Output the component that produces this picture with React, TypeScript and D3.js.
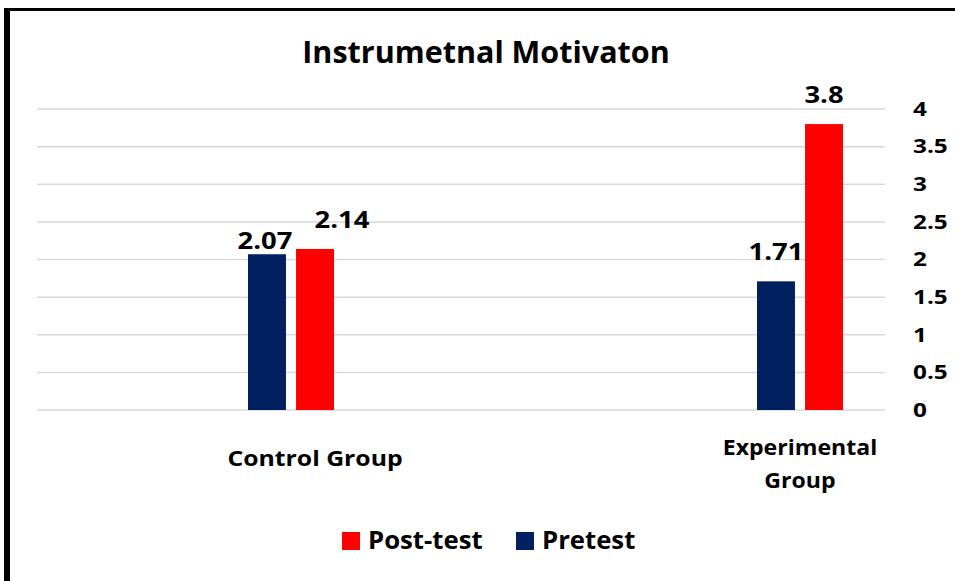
import React from "react";
import * as d3 from "d3";

const categories = ["Control Group", "Experimental Group"];
const seriesNames = ["Pretest", "Post-test"];
const pretest = [2.07, 1.71];
const posttest = [2.14, 3.8];
const yTicks = [0, 0.5, 1, 1.5, 2, 2.5, 3, 3.5, 4];
const legendOrder = ["Post-test", "Pretest"];

const colors: Record<string, string> = { Pretest: "#002060", "Post-test": "#FF0000" };
const font = "'Open Sans', sans-serif";

// bold text, optionally widened a bit to match the original's wide glyphs
function Label(props: {
  x: number;
  y: number;
  size: number;
  sx?: number;
  anchor?: string;
  dy?: string;
  children: React.ReactNode;
}) {
  const { x, y, size, sx = 1, anchor = "start", dy } = props;
  return (
    <text
      transform={`translate(${x},${y}) scale(${sx},1)`}
      dy={dy}
      textAnchor={anchor}
      fontSize={size}
      fontWeight="bold"
      fill="#000"
    >
      {props.children}
    </text>
  );
}

export default function App() {
  const width = 955;
  const height = 581;

  const y = d3.scaleLinear().domain([0, 4]).range([410, 109]);
  const x = d3.scalePoint<string>().domain(categories).range([291, 800]);
  const inner = d3.scaleBand<string>().domain(seriesNames).range([-43, 43]).paddingInner(0.21);

  const gridX0 = 37;
  const gridX1 = 885;

  // manual tweaks that the original chart had on its labels
  const labelShift: Record<string, [number, number]> = {
    "Control Group|Pretest": [-2, 16],
    "Control Group|Post-test": [27, 0],
  };
  const catShift: Record<string, number> = { "Control Group": 24 };

  const bars = categories.flatMap((c, i) => [
    { cat: c, series: "Pretest", value: pretest[i] },
    { cat: c, series: "Post-test", value: posttest[i] },
  ]);

  return (
    <svg
      width={width}
      height={height}
      style={{ position: "absolute", left: 0, top: 0, background: "#fff" }}
      fontFamily={font}
    >
      <rect x={0} y={0} width={width} height={height} fill="#fff" />
      <line x1={7} y1={8} x2={7} y2={height} stroke="#000" strokeWidth={6} />
      <line x1={4} y1={9.5} x2={width} y2={9.5} stroke="#000" strokeWidth={3} />

      <Label x={486} y={63} size={30.5} anchor="middle">
        Instrumetnal Motivaton
      </Label>

      {yTicks.map((t) => (
        <g key={t}>
          <line x1={gridX0} x2={gridX1} y1={y(t)} y2={y(t)} stroke="#d9d9d9" strokeWidth={1.5} />
          <Label x={913} y={y(t)} dy="0.36em" size={19} sx={1.28}>
            {t}
          </Label>
        </g>
      ))}

      {bars.map((b) => {
        const bx = (x(b.cat) as number) + (inner(b.series) as number);
        const bw = inner.bandwidth();
        const [dx, dy] = labelShift[`${b.cat}|${b.series}`] || [0, 0];
        return (
          <g key={b.cat + b.series}>
            <rect x={bx} y={y(b.value)} width={bw} height={y(0) - y(b.value)} fill={colors[b.series]} />
            <Label x={bx + bw / 2 + dx} y={y(b.value) - 21 + dy} size={22.5} sx={1.22} anchor="middle">
              {b.value}
            </Label>
          </g>
        );
      })}

      {categories.map((c) => {
        const cx = (x(c) as number) + (catShift[c] || 0);
        const words = c === "Experimental Group" ? ["Experimental", "Group"] : [c];
        const y0 = words.length > 1 ? 455 : 466;
        return words.map((w, i) => (
          <Label key={c + w} x={cx} y={y0 + i * 33} size={21} sx={words.length > 1 ? 1.1 : 1.18} anchor="middle">
            {w}
          </Label>
        ));
      })}

      {legendOrder.map((s, i) => {
        const lx = i === 0 ? 342 : 516;
        return (
          <g key={s}>
            <rect x={lx} y={532} width={18} height={18} fill={colors[s]} />
            <Label x={lx + 26} y={549} size={24.5} sx={1.05}>
              {s}
            </Label>
          </g>
        );
      })}
    </svg>
  );
}
